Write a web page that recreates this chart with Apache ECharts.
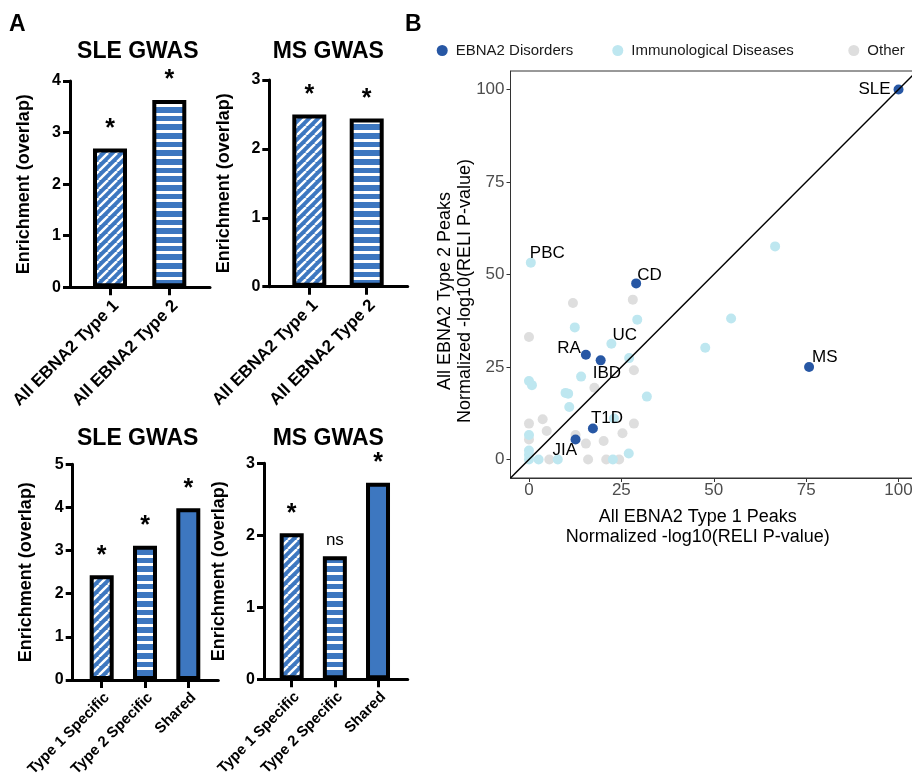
<!DOCTYPE html>
<html>
<head>
<meta charset="utf-8">
<script src="https://cdn.jsdelivr.net/npm/echarts@6/dist/echarts.min.js"></script>
<style>
html,body{margin:0;padding:0;background:#fff;}
#chart{width:912px;height:776px;}
</style>
</head>
<body>
<div id="chart"></div>
<script>
// ---------- DATA ----------
const topCategories = ['All EBNA2 Type 1', 'All EBNA2 Type 2'];
const bottomCategories = ['Type 1 Specific', 'Type 2 Specific', 'Shared'];
const topFills = ['diag', 'horiz'];
const bottomFills = ['diag', 'horiz', 'solid'];

const sleTopValues = [2.69, 3.63];
const sleTopSig = ['*', '*'];
const msTopValues = [2.50, 2.44];
const msTopSig = ['*', '*'];
const sleBottomValues = [2.43, 3.11, 3.98];
const sleBottomSig = ['*', '*', '*'];
const msBottomValues = [2.03, 1.71, 2.73];
const msBottomSig = ['*', 'ns', '*'];

const barTitles = ['SLE GWAS', 'MS GWAS', 'SLE GWAS', 'MS GWAS'];
const barYMax = [4, 3, 5, 3];
const barYName = 'Enrichment (overlap)';

const scatterTicks = [0, 25, 50, 75, 100];
const xTitle = ['All EBNA2 Type 1 Peaks', 'Normalized -log10(RELI P-value)'];
const yTitle = ['All EBNA2 Type 2 Peaks', 'Normalized -log10(RELI P-value)'];
const groupNames = ['EBNA2 Disorders', 'Immunological Diseases', 'Other'];

// EBNA2 disorders [x, y, label]
const ebna2Points = [
  [100, 100, 'SLE'], [75.8, 25.0, 'MS'], [29.0, 47.6, 'CD'], [15.4, 28.3, 'RA'],
  [19.4, 26.8, 'IBD'], [17.3, 8.4, 'T1D'], [12.6, 5.4, 'JIA']
];
// Immunological diseases [x, y, label]
const immunoPoints = [
  [0.5, 53.2, 'PBC'], [22.3, 31.3, 'UC'], [66.6, 57.6, ''], [54.7, 38.1, ''], [47.7, 30.2, ''],
  [31.9, 17.0, ''], [29.3, 37.8, ''], [12.4, 35.7, ''], [27.1, 27.4, ''], [14.1, 22.4, ''],
  [0, 21.2, ''], [0.8, 20.1, ''], [9.9, 18.0, ''], [10.6, 17.8, ''], [10.9, 14.2, ''],
  [23.0, 11.1, ''], [0, 6.6, ''], [0, 2.4, ''], [0, 0, ''], [0, 1.2, ''], [2.6, 0, ''],
  [7.8, 0, ''], [22.7, 0, ''], [27.0, 1.6, '']
];
// Other
const otherPoints = [
  [11.9, 42.3], [28.1, 43.2], [0, 33.1], [28.4, 24.1], [17.7, 19.4], [0, 9.7], [3.7, 10.9],
  [28.4, 9.7], [4.8, 7.7], [25.3, 7.1], [0, 5.4], [12.6, 6.6], [15.4, 4.3], [20.2, 5.0],
  [5.5, 0], [16.0, 0], [20.9, 0], [24.4, 0]
];

// ---------- STYLE ----------
const FONT = 'Liberation Sans, Arial, Helvetica, sans-serif';
const BLUE = '#3D77C0';
const DARK = '#2757A4';
const LIGHT = '#BEE7F0';
const GRAY = '#DEDEDE';

function diagPattern() {
  const P = 9;
  const c = document.createElement('canvas');
  c.width = P; c.height = P;
  const g = c.getContext('2d');
  g.fillStyle = BLUE; g.fillRect(0, 0, P, P);
  g.strokeStyle = '#fff'; g.lineWidth = 2.4;
  for (const k of [-P, 0, P]) {
    g.beginPath(); g.moveTo(k, P); g.lineTo(k + P, 0); g.stroke();
  }
  return { image: c, repeat: 'repeat' };
}
function horizPattern() {
  const c = document.createElement('canvas');
  c.width = 4; c.height = 26;
  const g = c.getContext('2d');
  g.fillStyle = BLUE; g.fillRect(0, 0, 4, 26);
  g.fillStyle = '#fff';
  for (const y of [0, 9, 17]) g.fillRect(0, y, 4, 3);
  return { image: c, repeat: 'repeat' };
}
const fills = { diag: diagPattern(), horiz: horizPattern(), solid: BLUE };

// layout of the four bar panels
const barPanels = [
  { left: 70, top: 81, width: 140, height: 206.3, xmin: 0.3255, xmax: 2.6864, barWidth: 34, cats: topCategories, fillsKey: topFills, vals: sleTopValues, sig: sleTopSig, labelSize: 17, nameGap: 37 },
  { left: 269.3, top: 80, width: 138.4, height: 206.7, xmin: 0.3031, xmax: 2.7142, barWidth: 34, cats: topCategories, fillsKey: topFills, vals: msTopValues, sig: msTopSig, labelSize: 17, nameGap: 36 },
  { left: 72.7, top: 464.3, width: 145.6, height: 215.7, xmin: 0.3303, xmax: 3.693, barWidth: 24, cats: bottomCategories, fillsKey: bottomFills, vals: sleBottomValues, sig: sleBottomSig, labelSize: 15, nameGap: 37.5 },
  { left: 264, top: 463.3, width: 143.7, height: 216, xmin: 0.358, xmax: 3.688, barWidth: 24, cats: bottomCategories, fillsKey: bottomFills, vals: msBottomValues, sig: msBottomSig, labelSize: 15, nameGap: 36 }
];
const titlePos = [[137.8, 51.7], [328.3, 51.7], [137.7, 438.3], [328.3, 438.3]];

const grids = [], xAxes = [], yAxes = [], series = [];
barPanels.forEach((p, i) => {
  grids.push({ left: p.left, top: p.top, width: p.width, height: p.height, containLabel: false, outerBoundsMode: 'none' });
  const positions = p.cats.map((_, j) => j + 1);
  xAxes.push({
    type: 'value', gridIndex: i, min: p.xmin, max: p.xmax,
    axisLine: { show: true, onZero: false, lineStyle: { color: '#000', width: 3 } },
    splitLine: { show: false },
    axisTick: { show: true, customValues: positions, length: 8, lineStyle: { color: '#000', width: 3 } },
    axisLabel: {
      customValues: positions, rotate: 45, margin: 10, verticalAlign: 'top',
      formatter: v => p.cats[Math.round(v) - 1] || '',
      fontFamily: FONT, fontWeight: 'bold', fontSize: p.labelSize, color: '#000'
    }
  });
  yAxes.push({
    type: 'value', gridIndex: i, min: 0, max: barYMax[i], interval: 1,
    name: barYName, nameLocation: 'middle', nameGap: p.nameGap,
    nameTextStyle: { fontFamily: FONT, fontWeight: 'bold', fontSize: 18, color: '#000' },
    axisLine: { show: true, onZero: false, lineStyle: { color: '#000', width: 3 } },
    splitLine: { show: false },
    axisTick: { show: true, length: 7, lineStyle: { color: '#000', width: 3 } },
    axisLabel: { margin: 9, fontFamily: FONT, fontWeight: 'bold', fontSize: 16, color: '#000' }
  });
  series.push({
    type: 'bar', xAxisIndex: i, yAxisIndex: i, barWidth: p.barWidth, z: 1,
    data: p.vals.map((v, j) => ({
      value: [j + 1, v],
      itemStyle: { color: fills[p.fillsKey[j]], borderColor: '#000', borderWidth: 4 },
      label: p.sig[j] === 'ns'
        ? { show: true, position: 'top', distance: 7, formatter: 'ns', fontFamily: FONT, fontSize: 17, fontWeight: 'normal', color: '#000' }
        : { show: true, position: 'top', distance: 7, formatter: p.sig[j], fontFamily: FONT, fontSize: 25, fontWeight: 'bold', color: '#000' }
    }))
  });
});

// scatter panel
const SG = 4;
grids.push({ left: 510.5, top: 71, width: 406.5, height: 407, show: true, borderColor: '#333', borderWidth: 1, backgroundColor: 'transparent', containLabel: false, outerBoundsMode: 'none' });
xAxes.push({
  type: 'value', gridIndex: SG, min: -5, max: 105,
  axisLine: { show: true, onZero: false, lineStyle: { color: '#333', width: 1 } }, splitLine: { show: false },
  axisTick: { show: true, customValues: scatterTicks, length: 4, lineStyle: { color: '#333', width: 1 } },
  axisLabel: { customValues: scatterTicks, margin: 4, fontFamily: FONT, fontSize: 17, color: '#4D4D4D' }
});
yAxes.push({
  type: 'value', gridIndex: SG, min: -5, max: 105,
  axisLine: { show: true, onZero: false, lineStyle: { color: '#333', width: 1 } }, splitLine: { show: false },
  axisTick: { show: true, customValues: scatterTicks, length: 4, lineStyle: { color: '#333', width: 1 } },
  axisLabel: { customValues: scatterTicks, margin: 6, fontFamily: FONT, fontSize: 17, color: '#4D4D4D' }
});

const labelPlace = {
  SLE: { align: 'right', offset: [-8, 0] },
  MS: { align: 'left', offset: [3, -10] },
  CD: { align: 'left', offset: [1, -8] },
  PBC: { align: 'left', offset: [-1, -9] },
  UC: { align: 'left', offset: [1, -8] },
  RA: { align: 'right', offset: [-5, -6] },
  IBD: { align: 'left', offset: [-8, 13] },
  T1D: { align: 'left', offset: [-2, -10] },
  JIA: { align: 'right', offset: [1.5, 11] }
};
function pointItems(arr) {
  return arr.map(d => {
    const item = { value: [d[0], d[1]] };
    if (d[2]) {
      const lp = labelPlace[d[2]];
      item.label = {
        show: true, position: 'inside', formatter: d[2], align: lp.align, verticalAlign: 'middle',
        offset: lp.offset, fontFamily: FONT, fontSize: 17, color: '#000'
      };
    }
    return item;
  });
}
series.push({
  name: groupNames[2], type: 'scatter', xAxisIndex: SG, yAxisIndex: SG, symbolSize: 10, z: 2,
  itemStyle: { color: GRAY, opacity: 1 }, data: otherPoints.map(d => [d[0], d[1]])
});
series.push({
  name: groupNames[1], type: 'scatter', xAxisIndex: SG, yAxisIndex: SG, symbolSize: 10, z: 3,
  itemStyle: { color: LIGHT, opacity: 1 }, data: pointItems(immunoPoints)
});
series.push({
  name: groupNames[0], type: 'scatter', xAxisIndex: SG, yAxisIndex: SG, symbolSize: 10, z: 4,
  itemStyle: { color: DARK, opacity: 1 }, data: pointItems(ebna2Points)
});
series.push({
  type: 'line', xAxisIndex: SG, yAxisIndex: SG, z: 5, silent: true, symbol: 'none',
  lineStyle: { color: '#000', width: 1.5 }, data: [[-5, -5], [105, 105]], clip: true
});

const graphics = [
  { type: 'text', left: 9, top: 13, style: { text: 'A', font: 'bold 23px ' + FONT, fill: '#000' } },
  { type: 'text', left: 405, top: 13, style: { text: 'B', font: 'bold 23px ' + FONT, fill: '#000' } }
];
barTitles.forEach((t, i) => {
  graphics.push({ type: 'text', x: titlePos[i][0], y: titlePos[i][1],
    style: { text: t, font: 'bold 23px ' + FONT, fill: '#000', textAlign: 'center', textVerticalAlign: 'middle' } });
});
graphics.push({ type: 'text', x: 697.7, y: 526.7,
  style: { text: xTitle.join('\n'), font: '18px ' + FONT, fill: '#000', textAlign: 'center', textVerticalAlign: 'middle', lineHeight: 20 } });
graphics.push({ type: 'text', x: 455, y: 291, rotation: Math.PI / 2,
  style: { text: yTitle.join('\n'), font: '18px ' + FONT, fill: '#000', textAlign: 'center', textVerticalAlign: 'middle', lineHeight: 20 } });

const legendLefts = [436.7, 612.3, 848.3];
const legends = groupNames.map((n, i) => ({
  data: [n], left: legendLefts[i], top: 43, padding: 0, itemWidth: 11, itemHeight: 11, icon: 'circle',
  selectedMode: false, itemGap: 0,
  textStyle: { fontFamily: FONT, fontSize: 15, color: '#1a1a1a', padding: [0, 0, 0, 3] }
}));

const chart = echarts.init(document.getElementById('chart'), null, { renderer: 'canvas' });
chart.setOption({
  animation: false,
  backgroundColor: '#fff',
  grid: grids, xAxis: xAxes, yAxis: yAxes, series: series,
  legend: legends, graphic: graphics
});
</script>
</body>
</html>
